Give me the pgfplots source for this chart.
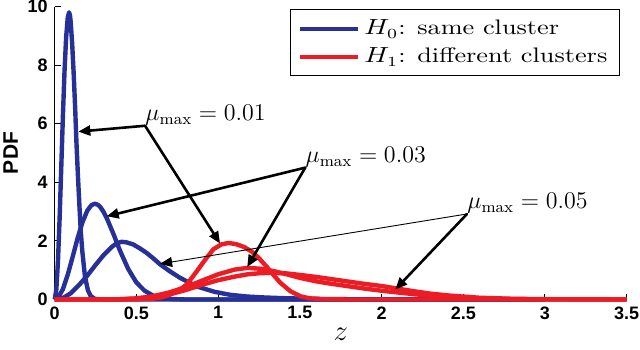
\documentclass[border=0pt]{standalone}
\usepackage{fontspec}
\setsansfont{Liberation Sans}
\usepackage{graphicx}
\usepackage{pgfplots}
\usepackage{pgfplotstable}
\pgfplotsset{compat=1.18}
\usetikzlibrary{arrows.meta}
\definecolor{h0blue}{RGB}{38,48,150}
\definecolor{h1red}{RGB}{237,28,36}

% H0 curves (same cluster), mu_max = 0.01, 0.03, 0.05
\pgfplotstableread{
z pdf
0 0
0.01 0.34
0.02 1.31
0.03 2.76
0.04 4.48
0.05 6.23
0.06 7.78
0.07 8.95
0.08 9.63
0.088 9.8
0.094 9.68
0.098 9.46
0.107 8.72
0.116 7.72
0.125 6.56
0.133 5.37
0.142 4.24
0.151 3.23
0.159 2.38
0.168 1.70
0.185 0.79
0.203 0.32
0.22 0.12
0.246 0.02
0.28 0
3.0 0
}\blueA
\pgfplotstableread{
z pdf
0 0
0.02 0.06
0.05 0.35
0.08 0.85
0.11 1.46
0.14 2.09
0.17 2.64
0.20 3.04
0.225 3.22
0.2455 3.27
0.265 3.23
0.28 3.15
0.30 2.98
0.32 2.76
0.36 2.23
0.40 1.66
0.45 1.04
0.50 0.58
0.55 0.30
0.60 0.14
0.65 0.06
0.70 0.02
0.80 0
3.0 0
}\blueB
\pgfplotstableread{
z pdf
0 0
0.03 0.02
0.06 0.08
0.10 0.22
0.15 0.50
0.20 0.82
0.25 1.18
0.30 1.52
0.35 1.80
0.38 1.92
0.41 1.97
0.44 1.95
0.48 1.88
0.52 1.75
0.56 1.60
0.60 1.42
0.645 1.20
0.70 0.98
0.767 0.74
0.83 0.56
0.89 0.41
0.98 0.26
1.074 0.16
1.18 0.10
1.28 0.07
1.40 0.045
1.60 0.02
1.80 0.01
2.0 0
3.0 0
}\blueC
% H1 curves (different clusters)
\pgfplotstableread{
z pdf
0 0
0.45 0
0.5 0.005
0.6 0.03
0.65 0.07
0.7 0.15
0.767 0.34
0.808 0.51
0.87 0.97
0.921 1.36
0.972 1.72
1.02 1.88
1.064 1.93
1.11 1.89
1.16 1.79
1.207 1.63
1.25 1.41
1.30 1.10
1.34 0.83
1.381 0.57
1.443 0.28
1.504 0.11
1.56 0.04
1.65 0.01
1.8 0
3.5 0
}\redA
\pgfplotstableread{
z pdf
0 0
0.3 0
0.4 0.01
0.5 0.04
0.6 0.11
0.7 0.24
0.8 0.42
0.9 0.64
1.0 0.86
1.1 1.02
1.18 1.08
1.26 1.05
1.34 0.97
1.42 0.86
1.5 0.74
1.6 0.62
1.7 0.53
1.8 0.45
1.9 0.37
2.0 0.30
2.1 0.24
2.2 0.18
2.3 0.13
2.425 0.08
2.6 0.04
2.8 0.015
3.0 0.005
3.5 0
}\redB
\pgfplotstableread{
z pdf
0 0
0.3 0
0.4 0.01
0.5 0.03
0.6 0.08
0.7 0.17
0.8 0.32
0.9 0.50
1.0 0.66
1.1 0.78
1.18 0.86
1.26 0.90
1.34 0.91
1.42 0.89
1.5 0.84
1.6 0.77
1.7 0.69
1.8 0.61
1.9 0.53
2.0 0.46
2.1 0.37
2.2 0.28
2.3 0.20
2.425 0.13
2.6 0.06
2.8 0.025
3.0 0.01
3.5 0
}\redC

\begin{document}
\begin{tikzpicture}
\begin{axis}[
  scale only axis,
  width=286pt, height=146.5pt,
  xmin=0, xmax=3.5, ymin=0, ymax=10,
  axis lines*=left,
  axis line style={black, line width=0.5pt},
  xtick={0,0.5,1,1.5,2,2.5,3,3.5},
  ytick={0,2,4,6,8,10},
  tick align=inside,
  major tick length=3pt,
  tick style={black, line width=0.5pt},
  tick label style={font=\fontsize{9}{10}\selectfont\sffamily\bfseries},
  /pgf/number format/assume math mode=true,
  xlabel={$z$},
  ylabel={PDF},
  xlabel style={font=\fontsize{15}{18}\selectfont, at={(axis description cs:0.5,-0.119)}, anchor=center},
  ylabel style={font=\fontsize{10.5}{12}\selectfont\sffamily\bfseries, at={(axis description cs:-0.077,0.5)}, anchor=center},
  clip=false,
  legend cell align=left,
  legend style={at={(0.988,0.99)}, anchor=north east, draw=black, line width=0.5pt,
    fill=white, font=\fontsize{10.5}{12}\selectfont,
    inner xsep=4pt, inner ysep=3pt, row sep=1pt, nodes={inner sep=2pt}},
  legend image code/.code={\draw[#1] (0pt,0pt) -- (29pt,0pt);},
  every axis plot/.append style={line width=2.2pt, line join=round},
]
\addplot[h0blue] table {\blueA};
\addlegendentry{\scalebox{1.25}[1]{$H_0$: same cluster}}
\addplot[h0blue, forget plot] table {\blueB};
\addplot[h0blue, forget plot] table {\blueC};
\addplot[h1red] table {\redA};
\addlegendentry{\scalebox{1.25}[1]{$H_1$: different clusters}}
\addplot[h1red, forget plot] table {\redB};
\addplot[h1red, forget plot] table {\redC};

% annotations
\draw[line width=1.3pt, line cap=round, -{Triangle[length=6pt,width=5pt]}] (axis cs:0.553,5.93) -- (axis cs:0.1445,5.73);
\draw[line width=1.3pt, line cap=round, -{Triangle[length=6pt,width=5pt]}] (axis cs:0.553,5.93) -- (axis cs:1.012,1.91);
\node[anchor=south west, inner sep=0pt, font=\fontsize{12}{14}\selectfont] at (axis cs:0.553,5.93) {$\mu_{\max} = 0.01$};

\draw[line width=1.3pt, line cap=round, -{Triangle[length=6pt,width=5pt]}] (axis cs:1.533,4.50) -- (axis cs:0.318,2.84);
\draw[line width=1.3pt, line cap=round, -{Triangle[length=6pt,width=5pt]}] (axis cs:1.533,4.50) -- (axis cs:1.178,1.107);
\node[anchor=south west, inner sep=0pt, font=\fontsize{12}{14}\selectfont] at (axis cs:1.533,4.50) {$\mu_{\max} = 0.03$};

\draw[line width=0.45pt, -{Triangle[length=6pt,width=5pt]}] (axis cs:2.523,2.92) -- (axis cs:0.645,1.216);
\draw[line width=1.3pt, line cap=round, -{Triangle[length=6pt,width=5pt]}] (axis cs:2.523,2.92) -- (axis cs:2.084,0.341);
\node[anchor=south west, inner sep=0pt, font=\fontsize{12}{14}\selectfont] at (axis cs:2.523,2.92) {$\mu_{\max} = 0.05$};

\coordinate (ll) at (rel axis cs:0,0);
\coordinate (ur) at (rel axis cs:1,1);
\end{axis}
\pgfresetboundingbox
\path ([shift={(-27.35pt,-25pt)}]ll) rectangle ([shift={(6.65pt,3.25pt)}]ur);
\end{tikzpicture}
\end{document}
